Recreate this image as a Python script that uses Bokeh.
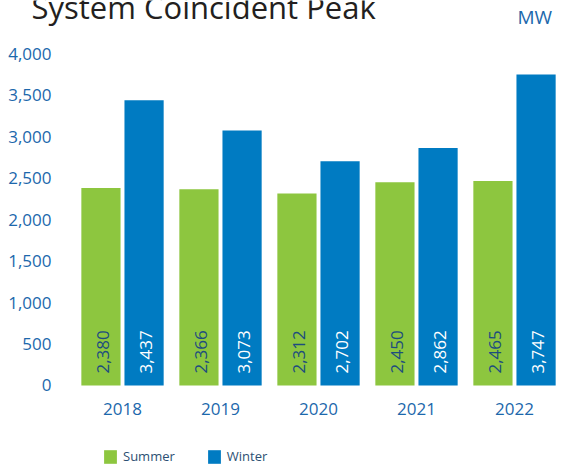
from bokeh.plotting import figure
from bokeh.models import (ColumnDataSource, Range1d, Label, Legend, LegendItem, LinearAxis,
                          FixedTicker, NumeralTickFormatter)
from bokeh.transform import dodge
from bokeh.core.properties import value
from bokeh.embed import file_html
from bokeh.resources import INLINE

years = ["2018", "2019", "2020", "2021", "2022"]
summer = [2380, 2366, 2312, 2450, 2465]
winter = [3437, 3073, 2702, 2862, 3747]
summer_labels = ["2,380", "2,366", "2,312", "2,450", "2,465"]
winter_labels = ["3,437", "3,073", "2,702", "2,862", "3,747"]
y_ticks = [0, 500, 1000, 1500, 2000, 2500, 3000, 3500, 4000]

GREEN = "#8dc63f"
BLUE = "#007bc2"
TICK_COLOR = "#1c68ac"
FONT = "Open Sans"

idx = list(range(len(years)))
src = ColumnDataSource(dict(x=idx, summer=summer, winter=winter,
                            zero=[0] * len(years),
                            slab=summer_labels, wlab=winter_labels))

W, H = 563, 466
p = figure(width=W, height=H, output_backend="svg", toolbar_location=None,
           x_range=Range1d(-1.245, 4.5), y_range=Range1d(-976, 4639),
           x_axis_location=None, y_axis_location=None, min_border=0)
p.xgrid.visible = False
p.ygrid.visible = False
p.outline_line_color = None

r1 = p.vbar(x=dodge("x", -0.22), top="summer", width=0.4, source=src,
            color=GREEN, line_color=None)
r2 = p.vbar(x=dodge("x", 0.22), top="winter", width=0.4, source=src,
            color=BLUE, line_color=None)

p.text(x=dodge("x", -0.22), y="zero", text="slab", source=src,
       angle=1.5708, text_align="left", text_baseline="middle", y_offset=-12, x_offset=2,
       text_font=value(FONT), text_font_size="17px", text_color="#1d4d7e")
p.text(x=dodge("x", 0.22), y="zero", text="wlab", source=src,
       angle=1.5708, text_align="left", text_baseline="middle", y_offset=-12, x_offset=2,
       text_font=value(FONT), text_font_size="17px", text_color="white")

yaxis = LinearAxis(fixed_location=-0.5, ticker=FixedTicker(ticks=y_ticks),
                   formatter=NumeralTickFormatter(format="0,0"), major_label_standoff=16)
xaxis = LinearAxis(fixed_location=0, ticker=FixedTicker(ticks=idx),
                   major_label_overrides={i: y for i, y in zip(idx, years)},
                   major_label_standoff=12)
for ax in (xaxis, yaxis):
    ax.axis_line_color = None
    ax.major_tick_line_color = None
    ax.minor_tick_line_color = None
    ax.major_label_text_color = TICK_COLOR
    ax.major_label_text_font = FONT
    ax.major_label_text_font_size = "17px"
p.add_layout(yaxis, "left")
p.add_layout(xaxis, "below")

p.add_layout(Label(x=31, y=H - 6, x_units="screen", y_units="screen",
                   text="System Coincident Peak", text_font=FONT, text_font_size="31px",
                   text_color="#231f20", text_baseline="alphabetic"))
p.add_layout(Label(x=517, y=H - 16, x_units="screen", y_units="screen", text="MW",
                   text_font=FONT, text_font_size="19px", text_color=TICK_COLOR,
                   text_baseline="middle"))

legend = Legend(items=[LegendItem(label="Summer", renderers=[r1]),
                       LegendItem(label="Winter", renderers=[r2])],
                location=(102, H - 465), orientation="horizontal",
                glyph_width=16, glyph_height=17, label_standoff=5, spacing=31,
                padding=0, margin=0, border_line_color=None, background_fill_alpha=0,
                label_text_font=FONT, label_text_font_size="13px", label_text_color="#2c4f73")
p.add_layout(legend)

open("out.html", "w").write(file_html(p, INLINE))
